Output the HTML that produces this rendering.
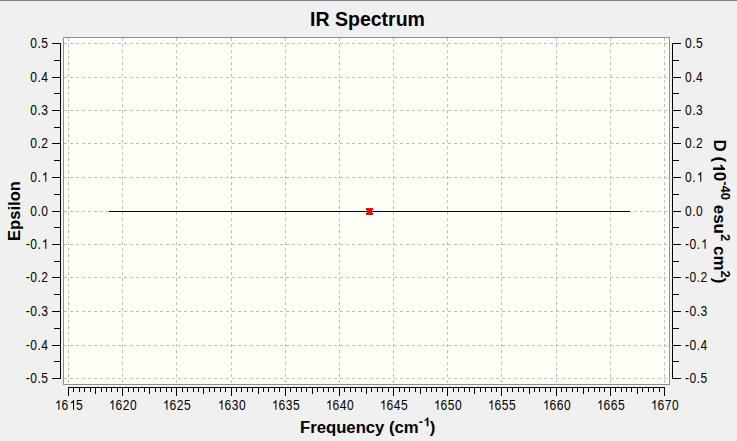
<!DOCTYPE html>
<html><head><meta charset="utf-8"><style>
html,body{margin:0;padding:0;width:737px;height:441px;overflow:hidden;background:#f0f0f0}
body{position:relative;font-family:"Liberation Sans",sans-serif;color:#000}
svg{position:absolute;left:0;top:0}
.yl{position:absolute;font-size:14px;line-height:16px;white-space:nowrap;letter-spacing:0.55px}
.yl.l{left:0;width:48.5px;text-align:right;transform:scaleX(0.86);transform-origin:48.5px 0}
.yl.r{left:685px;transform:scaleX(0.86);transform-origin:0 0}
.xl{position:absolute;top:397px;width:61px;text-align:center;font-size:14px;line-height:16px;letter-spacing:0.55px;text-indent:0.55px;transform:scaleX(0.86)}
.title{position:absolute;left:-1px;width:737px;top:8px;text-align:center;font-weight:bold;font-size:19.5px;line-height:22px}
.xt{position:absolute;left:300px;top:418px;font-weight:bold;font-size:16.7px;line-height:20px;white-space:nowrap}
.yt{position:absolute;font-weight:bold;font-size:17px;line-height:20px;white-space:nowrap}
sup{font-size:12.5px;vertical-align:0;position:relative;top:-7px}
sup.s2{font-size:13px;top:-7px}
.one{position:relative;color:transparent}
.one svg{position:absolute;left:0;top:0;width:0.5562em;height:1.1172em;fill:#000}
</style></head><body>
<svg width="737" height="441" viewBox="0 0 737 441" shape-rendering="crispEdges">
<rect x="0" y="0" width="737" height="441" fill="#f0f0f0"/>
<rect x="0" y="0" width="737" height="1" fill="#7e8390"/>
<rect x="63" y="37" width="607" height="348" fill="#8a8f99"/>
<rect x="64" y="38" width="605" height="346" fill="#fffff8"/>
<path d="M64 43h3v1h-3zM70 43h3v1h-3zM76 43h3v1h-3zM82 43h3v1h-3zM88 43h3v1h-3zM94 43h3v1h-3zM100 43h3v1h-3zM106 43h3v1h-3zM112 43h3v1h-3zM118 43h3v1h-3zM124 43h3v1h-3zM130 43h3v1h-3zM136 43h3v1h-3zM142 43h3v1h-3zM148 43h3v1h-3zM154 43h3v1h-3zM160 43h3v1h-3zM166 43h3v1h-3zM172 43h3v1h-3zM178 43h3v1h-3zM184 43h3v1h-3zM190 43h3v1h-3zM196 43h3v1h-3zM202 43h3v1h-3zM208 43h3v1h-3zM214 43h3v1h-3zM220 43h3v1h-3zM226 43h3v1h-3zM232 43h3v1h-3zM238 43h3v1h-3zM244 43h3v1h-3zM250 43h3v1h-3zM256 43h3v1h-3zM262 43h3v1h-3zM268 43h3v1h-3zM274 43h3v1h-3zM280 43h3v1h-3zM286 43h3v1h-3zM292 43h3v1h-3zM298 43h3v1h-3zM304 43h3v1h-3zM310 43h3v1h-3zM316 43h3v1h-3zM322 43h3v1h-3zM328 43h3v1h-3zM334 43h3v1h-3zM340 43h3v1h-3zM346 43h3v1h-3zM352 43h3v1h-3zM358 43h3v1h-3zM364 43h3v1h-3zM370 43h3v1h-3zM376 43h3v1h-3zM382 43h3v1h-3zM388 43h3v1h-3zM394 43h3v1h-3zM400 43h3v1h-3zM406 43h3v1h-3zM412 43h3v1h-3zM418 43h3v1h-3zM424 43h3v1h-3zM430 43h3v1h-3zM436 43h3v1h-3zM442 43h3v1h-3zM448 43h3v1h-3zM454 43h3v1h-3zM460 43h3v1h-3zM466 43h3v1h-3zM472 43h3v1h-3zM478 43h3v1h-3zM484 43h3v1h-3zM490 43h3v1h-3zM496 43h3v1h-3zM502 43h3v1h-3zM508 43h3v1h-3zM514 43h3v1h-3zM520 43h3v1h-3zM526 43h3v1h-3zM532 43h3v1h-3zM538 43h3v1h-3zM544 43h3v1h-3zM550 43h3v1h-3zM556 43h3v1h-3zM562 43h3v1h-3zM568 43h3v1h-3zM574 43h3v1h-3zM580 43h3v1h-3zM586 43h3v1h-3zM592 43h3v1h-3zM598 43h3v1h-3zM604 43h3v1h-3zM610 43h3v1h-3zM616 43h3v1h-3zM622 43h3v1h-3zM628 43h3v1h-3zM634 43h3v1h-3zM640 43h3v1h-3zM646 43h3v1h-3zM652 43h3v1h-3zM658 43h3v1h-3zM664 43h3v1h-3zM64 77h3v1h-3zM70 77h3v1h-3zM76 77h3v1h-3zM82 77h3v1h-3zM88 77h3v1h-3zM94 77h3v1h-3zM100 77h3v1h-3zM106 77h3v1h-3zM112 77h3v1h-3zM118 77h3v1h-3zM124 77h3v1h-3zM130 77h3v1h-3zM136 77h3v1h-3zM142 77h3v1h-3zM148 77h3v1h-3zM154 77h3v1h-3zM160 77h3v1h-3zM166 77h3v1h-3zM172 77h3v1h-3zM178 77h3v1h-3zM184 77h3v1h-3zM190 77h3v1h-3zM196 77h3v1h-3zM202 77h3v1h-3zM208 77h3v1h-3zM214 77h3v1h-3zM220 77h3v1h-3zM226 77h3v1h-3zM232 77h3v1h-3zM238 77h3v1h-3zM244 77h3v1h-3zM250 77h3v1h-3zM256 77h3v1h-3zM262 77h3v1h-3zM268 77h3v1h-3zM274 77h3v1h-3zM280 77h3v1h-3zM286 77h3v1h-3zM292 77h3v1h-3zM298 77h3v1h-3zM304 77h3v1h-3zM310 77h3v1h-3zM316 77h3v1h-3zM322 77h3v1h-3zM328 77h3v1h-3zM334 77h3v1h-3zM340 77h3v1h-3zM346 77h3v1h-3zM352 77h3v1h-3zM358 77h3v1h-3zM364 77h3v1h-3zM370 77h3v1h-3zM376 77h3v1h-3zM382 77h3v1h-3zM388 77h3v1h-3zM394 77h3v1h-3zM400 77h3v1h-3zM406 77h3v1h-3zM412 77h3v1h-3zM418 77h3v1h-3zM424 77h3v1h-3zM430 77h3v1h-3zM436 77h3v1h-3zM442 77h3v1h-3zM448 77h3v1h-3zM454 77h3v1h-3zM460 77h3v1h-3zM466 77h3v1h-3zM472 77h3v1h-3zM478 77h3v1h-3zM484 77h3v1h-3zM490 77h3v1h-3zM496 77h3v1h-3zM502 77h3v1h-3zM508 77h3v1h-3zM514 77h3v1h-3zM520 77h3v1h-3zM526 77h3v1h-3zM532 77h3v1h-3zM538 77h3v1h-3zM544 77h3v1h-3zM550 77h3v1h-3zM556 77h3v1h-3zM562 77h3v1h-3zM568 77h3v1h-3zM574 77h3v1h-3zM580 77h3v1h-3zM586 77h3v1h-3zM592 77h3v1h-3zM598 77h3v1h-3zM604 77h3v1h-3zM610 77h3v1h-3zM616 77h3v1h-3zM622 77h3v1h-3zM628 77h3v1h-3zM634 77h3v1h-3zM640 77h3v1h-3zM646 77h3v1h-3zM652 77h3v1h-3zM658 77h3v1h-3zM664 77h3v1h-3zM64 110h3v1h-3zM70 110h3v1h-3zM76 110h3v1h-3zM82 110h3v1h-3zM88 110h3v1h-3zM94 110h3v1h-3zM100 110h3v1h-3zM106 110h3v1h-3zM112 110h3v1h-3zM118 110h3v1h-3zM124 110h3v1h-3zM130 110h3v1h-3zM136 110h3v1h-3zM142 110h3v1h-3zM148 110h3v1h-3zM154 110h3v1h-3zM160 110h3v1h-3zM166 110h3v1h-3zM172 110h3v1h-3zM178 110h3v1h-3zM184 110h3v1h-3zM190 110h3v1h-3zM196 110h3v1h-3zM202 110h3v1h-3zM208 110h3v1h-3zM214 110h3v1h-3zM220 110h3v1h-3zM226 110h3v1h-3zM232 110h3v1h-3zM238 110h3v1h-3zM244 110h3v1h-3zM250 110h3v1h-3zM256 110h3v1h-3zM262 110h3v1h-3zM268 110h3v1h-3zM274 110h3v1h-3zM280 110h3v1h-3zM286 110h3v1h-3zM292 110h3v1h-3zM298 110h3v1h-3zM304 110h3v1h-3zM310 110h3v1h-3zM316 110h3v1h-3zM322 110h3v1h-3zM328 110h3v1h-3zM334 110h3v1h-3zM340 110h3v1h-3zM346 110h3v1h-3zM352 110h3v1h-3zM358 110h3v1h-3zM364 110h3v1h-3zM370 110h3v1h-3zM376 110h3v1h-3zM382 110h3v1h-3zM388 110h3v1h-3zM394 110h3v1h-3zM400 110h3v1h-3zM406 110h3v1h-3zM412 110h3v1h-3zM418 110h3v1h-3zM424 110h3v1h-3zM430 110h3v1h-3zM436 110h3v1h-3zM442 110h3v1h-3zM448 110h3v1h-3zM454 110h3v1h-3zM460 110h3v1h-3zM466 110h3v1h-3zM472 110h3v1h-3zM478 110h3v1h-3zM484 110h3v1h-3zM490 110h3v1h-3zM496 110h3v1h-3zM502 110h3v1h-3zM508 110h3v1h-3zM514 110h3v1h-3zM520 110h3v1h-3zM526 110h3v1h-3zM532 110h3v1h-3zM538 110h3v1h-3zM544 110h3v1h-3zM550 110h3v1h-3zM556 110h3v1h-3zM562 110h3v1h-3zM568 110h3v1h-3zM574 110h3v1h-3zM580 110h3v1h-3zM586 110h3v1h-3zM592 110h3v1h-3zM598 110h3v1h-3zM604 110h3v1h-3zM610 110h3v1h-3zM616 110h3v1h-3zM622 110h3v1h-3zM628 110h3v1h-3zM634 110h3v1h-3zM640 110h3v1h-3zM646 110h3v1h-3zM652 110h3v1h-3zM658 110h3v1h-3zM664 110h3v1h-3zM64 143h3v1h-3zM70 143h3v1h-3zM76 143h3v1h-3zM82 143h3v1h-3zM88 143h3v1h-3zM94 143h3v1h-3zM100 143h3v1h-3zM106 143h3v1h-3zM112 143h3v1h-3zM118 143h3v1h-3zM124 143h3v1h-3zM130 143h3v1h-3zM136 143h3v1h-3zM142 143h3v1h-3zM148 143h3v1h-3zM154 143h3v1h-3zM160 143h3v1h-3zM166 143h3v1h-3zM172 143h3v1h-3zM178 143h3v1h-3zM184 143h3v1h-3zM190 143h3v1h-3zM196 143h3v1h-3zM202 143h3v1h-3zM208 143h3v1h-3zM214 143h3v1h-3zM220 143h3v1h-3zM226 143h3v1h-3zM232 143h3v1h-3zM238 143h3v1h-3zM244 143h3v1h-3zM250 143h3v1h-3zM256 143h3v1h-3zM262 143h3v1h-3zM268 143h3v1h-3zM274 143h3v1h-3zM280 143h3v1h-3zM286 143h3v1h-3zM292 143h3v1h-3zM298 143h3v1h-3zM304 143h3v1h-3zM310 143h3v1h-3zM316 143h3v1h-3zM322 143h3v1h-3zM328 143h3v1h-3zM334 143h3v1h-3zM340 143h3v1h-3zM346 143h3v1h-3zM352 143h3v1h-3zM358 143h3v1h-3zM364 143h3v1h-3zM370 143h3v1h-3zM376 143h3v1h-3zM382 143h3v1h-3zM388 143h3v1h-3zM394 143h3v1h-3zM400 143h3v1h-3zM406 143h3v1h-3zM412 143h3v1h-3zM418 143h3v1h-3zM424 143h3v1h-3zM430 143h3v1h-3zM436 143h3v1h-3zM442 143h3v1h-3zM448 143h3v1h-3zM454 143h3v1h-3zM460 143h3v1h-3zM466 143h3v1h-3zM472 143h3v1h-3zM478 143h3v1h-3zM484 143h3v1h-3zM490 143h3v1h-3zM496 143h3v1h-3zM502 143h3v1h-3zM508 143h3v1h-3zM514 143h3v1h-3zM520 143h3v1h-3zM526 143h3v1h-3zM532 143h3v1h-3zM538 143h3v1h-3zM544 143h3v1h-3zM550 143h3v1h-3zM556 143h3v1h-3zM562 143h3v1h-3zM568 143h3v1h-3zM574 143h3v1h-3zM580 143h3v1h-3zM586 143h3v1h-3zM592 143h3v1h-3zM598 143h3v1h-3zM604 143h3v1h-3zM610 143h3v1h-3zM616 143h3v1h-3zM622 143h3v1h-3zM628 143h3v1h-3zM634 143h3v1h-3zM640 143h3v1h-3zM646 143h3v1h-3zM652 143h3v1h-3zM658 143h3v1h-3zM664 143h3v1h-3zM64 177h3v1h-3zM70 177h3v1h-3zM76 177h3v1h-3zM82 177h3v1h-3zM88 177h3v1h-3zM94 177h3v1h-3zM100 177h3v1h-3zM106 177h3v1h-3zM112 177h3v1h-3zM118 177h3v1h-3zM124 177h3v1h-3zM130 177h3v1h-3zM136 177h3v1h-3zM142 177h3v1h-3zM148 177h3v1h-3zM154 177h3v1h-3zM160 177h3v1h-3zM166 177h3v1h-3zM172 177h3v1h-3zM178 177h3v1h-3zM184 177h3v1h-3zM190 177h3v1h-3zM196 177h3v1h-3zM202 177h3v1h-3zM208 177h3v1h-3zM214 177h3v1h-3zM220 177h3v1h-3zM226 177h3v1h-3zM232 177h3v1h-3zM238 177h3v1h-3zM244 177h3v1h-3zM250 177h3v1h-3zM256 177h3v1h-3zM262 177h3v1h-3zM268 177h3v1h-3zM274 177h3v1h-3zM280 177h3v1h-3zM286 177h3v1h-3zM292 177h3v1h-3zM298 177h3v1h-3zM304 177h3v1h-3zM310 177h3v1h-3zM316 177h3v1h-3zM322 177h3v1h-3zM328 177h3v1h-3zM334 177h3v1h-3zM340 177h3v1h-3zM346 177h3v1h-3zM352 177h3v1h-3zM358 177h3v1h-3zM364 177h3v1h-3zM370 177h3v1h-3zM376 177h3v1h-3zM382 177h3v1h-3zM388 177h3v1h-3zM394 177h3v1h-3zM400 177h3v1h-3zM406 177h3v1h-3zM412 177h3v1h-3zM418 177h3v1h-3zM424 177h3v1h-3zM430 177h3v1h-3zM436 177h3v1h-3zM442 177h3v1h-3zM448 177h3v1h-3zM454 177h3v1h-3zM460 177h3v1h-3zM466 177h3v1h-3zM472 177h3v1h-3zM478 177h3v1h-3zM484 177h3v1h-3zM490 177h3v1h-3zM496 177h3v1h-3zM502 177h3v1h-3zM508 177h3v1h-3zM514 177h3v1h-3zM520 177h3v1h-3zM526 177h3v1h-3zM532 177h3v1h-3zM538 177h3v1h-3zM544 177h3v1h-3zM550 177h3v1h-3zM556 177h3v1h-3zM562 177h3v1h-3zM568 177h3v1h-3zM574 177h3v1h-3zM580 177h3v1h-3zM586 177h3v1h-3zM592 177h3v1h-3zM598 177h3v1h-3zM604 177h3v1h-3zM610 177h3v1h-3zM616 177h3v1h-3zM622 177h3v1h-3zM628 177h3v1h-3zM634 177h3v1h-3zM640 177h3v1h-3zM646 177h3v1h-3zM652 177h3v1h-3zM658 177h3v1h-3zM664 177h3v1h-3zM64 211h3v1h-3zM70 211h3v1h-3zM76 211h3v1h-3zM82 211h3v1h-3zM88 211h3v1h-3zM94 211h3v1h-3zM100 211h3v1h-3zM106 211h3v1h-3zM112 211h3v1h-3zM118 211h3v1h-3zM124 211h3v1h-3zM130 211h3v1h-3zM136 211h3v1h-3zM142 211h3v1h-3zM148 211h3v1h-3zM154 211h3v1h-3zM160 211h3v1h-3zM166 211h3v1h-3zM172 211h3v1h-3zM178 211h3v1h-3zM184 211h3v1h-3zM190 211h3v1h-3zM196 211h3v1h-3zM202 211h3v1h-3zM208 211h3v1h-3zM214 211h3v1h-3zM220 211h3v1h-3zM226 211h3v1h-3zM232 211h3v1h-3zM238 211h3v1h-3zM244 211h3v1h-3zM250 211h3v1h-3zM256 211h3v1h-3zM262 211h3v1h-3zM268 211h3v1h-3zM274 211h3v1h-3zM280 211h3v1h-3zM286 211h3v1h-3zM292 211h3v1h-3zM298 211h3v1h-3zM304 211h3v1h-3zM310 211h3v1h-3zM316 211h3v1h-3zM322 211h3v1h-3zM328 211h3v1h-3zM334 211h3v1h-3zM340 211h3v1h-3zM346 211h3v1h-3zM352 211h3v1h-3zM358 211h3v1h-3zM364 211h3v1h-3zM370 211h3v1h-3zM376 211h3v1h-3zM382 211h3v1h-3zM388 211h3v1h-3zM394 211h3v1h-3zM400 211h3v1h-3zM406 211h3v1h-3zM412 211h3v1h-3zM418 211h3v1h-3zM424 211h3v1h-3zM430 211h3v1h-3zM436 211h3v1h-3zM442 211h3v1h-3zM448 211h3v1h-3zM454 211h3v1h-3zM460 211h3v1h-3zM466 211h3v1h-3zM472 211h3v1h-3zM478 211h3v1h-3zM484 211h3v1h-3zM490 211h3v1h-3zM496 211h3v1h-3zM502 211h3v1h-3zM508 211h3v1h-3zM514 211h3v1h-3zM520 211h3v1h-3zM526 211h3v1h-3zM532 211h3v1h-3zM538 211h3v1h-3zM544 211h3v1h-3zM550 211h3v1h-3zM556 211h3v1h-3zM562 211h3v1h-3zM568 211h3v1h-3zM574 211h3v1h-3zM580 211h3v1h-3zM586 211h3v1h-3zM592 211h3v1h-3zM598 211h3v1h-3zM604 211h3v1h-3zM610 211h3v1h-3zM616 211h3v1h-3zM622 211h3v1h-3zM628 211h3v1h-3zM634 211h3v1h-3zM640 211h3v1h-3zM646 211h3v1h-3zM652 211h3v1h-3zM658 211h3v1h-3zM664 211h3v1h-3zM64 244h3v1h-3zM70 244h3v1h-3zM76 244h3v1h-3zM82 244h3v1h-3zM88 244h3v1h-3zM94 244h3v1h-3zM100 244h3v1h-3zM106 244h3v1h-3zM112 244h3v1h-3zM118 244h3v1h-3zM124 244h3v1h-3zM130 244h3v1h-3zM136 244h3v1h-3zM142 244h3v1h-3zM148 244h3v1h-3zM154 244h3v1h-3zM160 244h3v1h-3zM166 244h3v1h-3zM172 244h3v1h-3zM178 244h3v1h-3zM184 244h3v1h-3zM190 244h3v1h-3zM196 244h3v1h-3zM202 244h3v1h-3zM208 244h3v1h-3zM214 244h3v1h-3zM220 244h3v1h-3zM226 244h3v1h-3zM232 244h3v1h-3zM238 244h3v1h-3zM244 244h3v1h-3zM250 244h3v1h-3zM256 244h3v1h-3zM262 244h3v1h-3zM268 244h3v1h-3zM274 244h3v1h-3zM280 244h3v1h-3zM286 244h3v1h-3zM292 244h3v1h-3zM298 244h3v1h-3zM304 244h3v1h-3zM310 244h3v1h-3zM316 244h3v1h-3zM322 244h3v1h-3zM328 244h3v1h-3zM334 244h3v1h-3zM340 244h3v1h-3zM346 244h3v1h-3zM352 244h3v1h-3zM358 244h3v1h-3zM364 244h3v1h-3zM370 244h3v1h-3zM376 244h3v1h-3zM382 244h3v1h-3zM388 244h3v1h-3zM394 244h3v1h-3zM400 244h3v1h-3zM406 244h3v1h-3zM412 244h3v1h-3zM418 244h3v1h-3zM424 244h3v1h-3zM430 244h3v1h-3zM436 244h3v1h-3zM442 244h3v1h-3zM448 244h3v1h-3zM454 244h3v1h-3zM460 244h3v1h-3zM466 244h3v1h-3zM472 244h3v1h-3zM478 244h3v1h-3zM484 244h3v1h-3zM490 244h3v1h-3zM496 244h3v1h-3zM502 244h3v1h-3zM508 244h3v1h-3zM514 244h3v1h-3zM520 244h3v1h-3zM526 244h3v1h-3zM532 244h3v1h-3zM538 244h3v1h-3zM544 244h3v1h-3zM550 244h3v1h-3zM556 244h3v1h-3zM562 244h3v1h-3zM568 244h3v1h-3zM574 244h3v1h-3zM580 244h3v1h-3zM586 244h3v1h-3zM592 244h3v1h-3zM598 244h3v1h-3zM604 244h3v1h-3zM610 244h3v1h-3zM616 244h3v1h-3zM622 244h3v1h-3zM628 244h3v1h-3zM634 244h3v1h-3zM640 244h3v1h-3zM646 244h3v1h-3zM652 244h3v1h-3zM658 244h3v1h-3zM664 244h3v1h-3zM64 277h3v1h-3zM70 277h3v1h-3zM76 277h3v1h-3zM82 277h3v1h-3zM88 277h3v1h-3zM94 277h3v1h-3zM100 277h3v1h-3zM106 277h3v1h-3zM112 277h3v1h-3zM118 277h3v1h-3zM124 277h3v1h-3zM130 277h3v1h-3zM136 277h3v1h-3zM142 277h3v1h-3zM148 277h3v1h-3zM154 277h3v1h-3zM160 277h3v1h-3zM166 277h3v1h-3zM172 277h3v1h-3zM178 277h3v1h-3zM184 277h3v1h-3zM190 277h3v1h-3zM196 277h3v1h-3zM202 277h3v1h-3zM208 277h3v1h-3zM214 277h3v1h-3zM220 277h3v1h-3zM226 277h3v1h-3zM232 277h3v1h-3zM238 277h3v1h-3zM244 277h3v1h-3zM250 277h3v1h-3zM256 277h3v1h-3zM262 277h3v1h-3zM268 277h3v1h-3zM274 277h3v1h-3zM280 277h3v1h-3zM286 277h3v1h-3zM292 277h3v1h-3zM298 277h3v1h-3zM304 277h3v1h-3zM310 277h3v1h-3zM316 277h3v1h-3zM322 277h3v1h-3zM328 277h3v1h-3zM334 277h3v1h-3zM340 277h3v1h-3zM346 277h3v1h-3zM352 277h3v1h-3zM358 277h3v1h-3zM364 277h3v1h-3zM370 277h3v1h-3zM376 277h3v1h-3zM382 277h3v1h-3zM388 277h3v1h-3zM394 277h3v1h-3zM400 277h3v1h-3zM406 277h3v1h-3zM412 277h3v1h-3zM418 277h3v1h-3zM424 277h3v1h-3zM430 277h3v1h-3zM436 277h3v1h-3zM442 277h3v1h-3zM448 277h3v1h-3zM454 277h3v1h-3zM460 277h3v1h-3zM466 277h3v1h-3zM472 277h3v1h-3zM478 277h3v1h-3zM484 277h3v1h-3zM490 277h3v1h-3zM496 277h3v1h-3zM502 277h3v1h-3zM508 277h3v1h-3zM514 277h3v1h-3zM520 277h3v1h-3zM526 277h3v1h-3zM532 277h3v1h-3zM538 277h3v1h-3zM544 277h3v1h-3zM550 277h3v1h-3zM556 277h3v1h-3zM562 277h3v1h-3zM568 277h3v1h-3zM574 277h3v1h-3zM580 277h3v1h-3zM586 277h3v1h-3zM592 277h3v1h-3zM598 277h3v1h-3zM604 277h3v1h-3zM610 277h3v1h-3zM616 277h3v1h-3zM622 277h3v1h-3zM628 277h3v1h-3zM634 277h3v1h-3zM640 277h3v1h-3zM646 277h3v1h-3zM652 277h3v1h-3zM658 277h3v1h-3zM664 277h3v1h-3zM64 311h3v1h-3zM70 311h3v1h-3zM76 311h3v1h-3zM82 311h3v1h-3zM88 311h3v1h-3zM94 311h3v1h-3zM100 311h3v1h-3zM106 311h3v1h-3zM112 311h3v1h-3zM118 311h3v1h-3zM124 311h3v1h-3zM130 311h3v1h-3zM136 311h3v1h-3zM142 311h3v1h-3zM148 311h3v1h-3zM154 311h3v1h-3zM160 311h3v1h-3zM166 311h3v1h-3zM172 311h3v1h-3zM178 311h3v1h-3zM184 311h3v1h-3zM190 311h3v1h-3zM196 311h3v1h-3zM202 311h3v1h-3zM208 311h3v1h-3zM214 311h3v1h-3zM220 311h3v1h-3zM226 311h3v1h-3zM232 311h3v1h-3zM238 311h3v1h-3zM244 311h3v1h-3zM250 311h3v1h-3zM256 311h3v1h-3zM262 311h3v1h-3zM268 311h3v1h-3zM274 311h3v1h-3zM280 311h3v1h-3zM286 311h3v1h-3zM292 311h3v1h-3zM298 311h3v1h-3zM304 311h3v1h-3zM310 311h3v1h-3zM316 311h3v1h-3zM322 311h3v1h-3zM328 311h3v1h-3zM334 311h3v1h-3zM340 311h3v1h-3zM346 311h3v1h-3zM352 311h3v1h-3zM358 311h3v1h-3zM364 311h3v1h-3zM370 311h3v1h-3zM376 311h3v1h-3zM382 311h3v1h-3zM388 311h3v1h-3zM394 311h3v1h-3zM400 311h3v1h-3zM406 311h3v1h-3zM412 311h3v1h-3zM418 311h3v1h-3zM424 311h3v1h-3zM430 311h3v1h-3zM436 311h3v1h-3zM442 311h3v1h-3zM448 311h3v1h-3zM454 311h3v1h-3zM460 311h3v1h-3zM466 311h3v1h-3zM472 311h3v1h-3zM478 311h3v1h-3zM484 311h3v1h-3zM490 311h3v1h-3zM496 311h3v1h-3zM502 311h3v1h-3zM508 311h3v1h-3zM514 311h3v1h-3zM520 311h3v1h-3zM526 311h3v1h-3zM532 311h3v1h-3zM538 311h3v1h-3zM544 311h3v1h-3zM550 311h3v1h-3zM556 311h3v1h-3zM562 311h3v1h-3zM568 311h3v1h-3zM574 311h3v1h-3zM580 311h3v1h-3zM586 311h3v1h-3zM592 311h3v1h-3zM598 311h3v1h-3zM604 311h3v1h-3zM610 311h3v1h-3zM616 311h3v1h-3zM622 311h3v1h-3zM628 311h3v1h-3zM634 311h3v1h-3zM640 311h3v1h-3zM646 311h3v1h-3zM652 311h3v1h-3zM658 311h3v1h-3zM664 311h3v1h-3zM64 345h3v1h-3zM70 345h3v1h-3zM76 345h3v1h-3zM82 345h3v1h-3zM88 345h3v1h-3zM94 345h3v1h-3zM100 345h3v1h-3zM106 345h3v1h-3zM112 345h3v1h-3zM118 345h3v1h-3zM124 345h3v1h-3zM130 345h3v1h-3zM136 345h3v1h-3zM142 345h3v1h-3zM148 345h3v1h-3zM154 345h3v1h-3zM160 345h3v1h-3zM166 345h3v1h-3zM172 345h3v1h-3zM178 345h3v1h-3zM184 345h3v1h-3zM190 345h3v1h-3zM196 345h3v1h-3zM202 345h3v1h-3zM208 345h3v1h-3zM214 345h3v1h-3zM220 345h3v1h-3zM226 345h3v1h-3zM232 345h3v1h-3zM238 345h3v1h-3zM244 345h3v1h-3zM250 345h3v1h-3zM256 345h3v1h-3zM262 345h3v1h-3zM268 345h3v1h-3zM274 345h3v1h-3zM280 345h3v1h-3zM286 345h3v1h-3zM292 345h3v1h-3zM298 345h3v1h-3zM304 345h3v1h-3zM310 345h3v1h-3zM316 345h3v1h-3zM322 345h3v1h-3zM328 345h3v1h-3zM334 345h3v1h-3zM340 345h3v1h-3zM346 345h3v1h-3zM352 345h3v1h-3zM358 345h3v1h-3zM364 345h3v1h-3zM370 345h3v1h-3zM376 345h3v1h-3zM382 345h3v1h-3zM388 345h3v1h-3zM394 345h3v1h-3zM400 345h3v1h-3zM406 345h3v1h-3zM412 345h3v1h-3zM418 345h3v1h-3zM424 345h3v1h-3zM430 345h3v1h-3zM436 345h3v1h-3zM442 345h3v1h-3zM448 345h3v1h-3zM454 345h3v1h-3zM460 345h3v1h-3zM466 345h3v1h-3zM472 345h3v1h-3zM478 345h3v1h-3zM484 345h3v1h-3zM490 345h3v1h-3zM496 345h3v1h-3zM502 345h3v1h-3zM508 345h3v1h-3zM514 345h3v1h-3zM520 345h3v1h-3zM526 345h3v1h-3zM532 345h3v1h-3zM538 345h3v1h-3zM544 345h3v1h-3zM550 345h3v1h-3zM556 345h3v1h-3zM562 345h3v1h-3zM568 345h3v1h-3zM574 345h3v1h-3zM580 345h3v1h-3zM586 345h3v1h-3zM592 345h3v1h-3zM598 345h3v1h-3zM604 345h3v1h-3zM610 345h3v1h-3zM616 345h3v1h-3zM622 345h3v1h-3zM628 345h3v1h-3zM634 345h3v1h-3zM640 345h3v1h-3zM646 345h3v1h-3zM652 345h3v1h-3zM658 345h3v1h-3zM664 345h3v1h-3zM64 378h3v1h-3zM70 378h3v1h-3zM76 378h3v1h-3zM82 378h3v1h-3zM88 378h3v1h-3zM94 378h3v1h-3zM100 378h3v1h-3zM106 378h3v1h-3zM112 378h3v1h-3zM118 378h3v1h-3zM124 378h3v1h-3zM130 378h3v1h-3zM136 378h3v1h-3zM142 378h3v1h-3zM148 378h3v1h-3zM154 378h3v1h-3zM160 378h3v1h-3zM166 378h3v1h-3zM172 378h3v1h-3zM178 378h3v1h-3zM184 378h3v1h-3zM190 378h3v1h-3zM196 378h3v1h-3zM202 378h3v1h-3zM208 378h3v1h-3zM214 378h3v1h-3zM220 378h3v1h-3zM226 378h3v1h-3zM232 378h3v1h-3zM238 378h3v1h-3zM244 378h3v1h-3zM250 378h3v1h-3zM256 378h3v1h-3zM262 378h3v1h-3zM268 378h3v1h-3zM274 378h3v1h-3zM280 378h3v1h-3zM286 378h3v1h-3zM292 378h3v1h-3zM298 378h3v1h-3zM304 378h3v1h-3zM310 378h3v1h-3zM316 378h3v1h-3zM322 378h3v1h-3zM328 378h3v1h-3zM334 378h3v1h-3zM340 378h3v1h-3zM346 378h3v1h-3zM352 378h3v1h-3zM358 378h3v1h-3zM364 378h3v1h-3zM370 378h3v1h-3zM376 378h3v1h-3zM382 378h3v1h-3zM388 378h3v1h-3zM394 378h3v1h-3zM400 378h3v1h-3zM406 378h3v1h-3zM412 378h3v1h-3zM418 378h3v1h-3zM424 378h3v1h-3zM430 378h3v1h-3zM436 378h3v1h-3zM442 378h3v1h-3zM448 378h3v1h-3zM454 378h3v1h-3zM460 378h3v1h-3zM466 378h3v1h-3zM472 378h3v1h-3zM478 378h3v1h-3zM484 378h3v1h-3zM490 378h3v1h-3zM496 378h3v1h-3zM502 378h3v1h-3zM508 378h3v1h-3zM514 378h3v1h-3zM520 378h3v1h-3zM526 378h3v1h-3zM532 378h3v1h-3zM538 378h3v1h-3zM544 378h3v1h-3zM550 378h3v1h-3zM556 378h3v1h-3zM562 378h3v1h-3zM568 378h3v1h-3zM574 378h3v1h-3zM580 378h3v1h-3zM586 378h3v1h-3zM592 378h3v1h-3zM598 378h3v1h-3zM604 378h3v1h-3zM610 378h3v1h-3zM616 378h3v1h-3zM622 378h3v1h-3zM628 378h3v1h-3zM634 378h3v1h-3zM640 378h3v1h-3zM646 378h3v1h-3zM652 378h3v1h-3zM658 378h3v1h-3zM664 378h3v1h-3zM68 38h1v3h-1zM68 44h1v3h-1zM68 50h1v3h-1zM68 56h1v3h-1zM68 62h1v3h-1zM68 68h1v3h-1zM68 74h1v3h-1zM68 80h1v3h-1zM68 86h1v3h-1zM68 92h1v3h-1zM68 98h1v3h-1zM68 104h1v3h-1zM68 110h1v3h-1zM68 116h1v3h-1zM68 122h1v3h-1zM68 128h1v3h-1zM68 134h1v3h-1zM68 140h1v3h-1zM68 146h1v3h-1zM68 152h1v3h-1zM68 158h1v3h-1zM68 164h1v3h-1zM68 170h1v3h-1zM68 176h1v3h-1zM68 182h1v3h-1zM68 188h1v3h-1zM68 194h1v3h-1zM68 200h1v3h-1zM68 206h1v3h-1zM68 212h1v3h-1zM68 218h1v3h-1zM68 224h1v3h-1zM68 230h1v3h-1zM68 236h1v3h-1zM68 242h1v3h-1zM68 248h1v3h-1zM68 254h1v3h-1zM68 260h1v3h-1zM68 266h1v3h-1zM68 272h1v3h-1zM68 278h1v3h-1zM68 284h1v3h-1zM68 290h1v3h-1zM68 296h1v3h-1zM68 302h1v3h-1zM68 308h1v3h-1zM68 314h1v3h-1zM68 320h1v3h-1zM68 326h1v3h-1zM68 332h1v3h-1zM68 338h1v3h-1zM68 344h1v3h-1zM68 350h1v3h-1zM68 356h1v3h-1zM68 362h1v3h-1zM68 368h1v3h-1zM68 374h1v3h-1zM68 380h1v3h-1zM122 38h1v3h-1zM122 44h1v3h-1zM122 50h1v3h-1zM122 56h1v3h-1zM122 62h1v3h-1zM122 68h1v3h-1zM122 74h1v3h-1zM122 80h1v3h-1zM122 86h1v3h-1zM122 92h1v3h-1zM122 98h1v3h-1zM122 104h1v3h-1zM122 110h1v3h-1zM122 116h1v3h-1zM122 122h1v3h-1zM122 128h1v3h-1zM122 134h1v3h-1zM122 140h1v3h-1zM122 146h1v3h-1zM122 152h1v3h-1zM122 158h1v3h-1zM122 164h1v3h-1zM122 170h1v3h-1zM122 176h1v3h-1zM122 182h1v3h-1zM122 188h1v3h-1zM122 194h1v3h-1zM122 200h1v3h-1zM122 206h1v3h-1zM122 212h1v3h-1zM122 218h1v3h-1zM122 224h1v3h-1zM122 230h1v3h-1zM122 236h1v3h-1zM122 242h1v3h-1zM122 248h1v3h-1zM122 254h1v3h-1zM122 260h1v3h-1zM122 266h1v3h-1zM122 272h1v3h-1zM122 278h1v3h-1zM122 284h1v3h-1zM122 290h1v3h-1zM122 296h1v3h-1zM122 302h1v3h-1zM122 308h1v3h-1zM122 314h1v3h-1zM122 320h1v3h-1zM122 326h1v3h-1zM122 332h1v3h-1zM122 338h1v3h-1zM122 344h1v3h-1zM122 350h1v3h-1zM122 356h1v3h-1zM122 362h1v3h-1zM122 368h1v3h-1zM122 374h1v3h-1zM122 380h1v3h-1zM176 38h1v3h-1zM176 44h1v3h-1zM176 50h1v3h-1zM176 56h1v3h-1zM176 62h1v3h-1zM176 68h1v3h-1zM176 74h1v3h-1zM176 80h1v3h-1zM176 86h1v3h-1zM176 92h1v3h-1zM176 98h1v3h-1zM176 104h1v3h-1zM176 110h1v3h-1zM176 116h1v3h-1zM176 122h1v3h-1zM176 128h1v3h-1zM176 134h1v3h-1zM176 140h1v3h-1zM176 146h1v3h-1zM176 152h1v3h-1zM176 158h1v3h-1zM176 164h1v3h-1zM176 170h1v3h-1zM176 176h1v3h-1zM176 182h1v3h-1zM176 188h1v3h-1zM176 194h1v3h-1zM176 200h1v3h-1zM176 206h1v3h-1zM176 212h1v3h-1zM176 218h1v3h-1zM176 224h1v3h-1zM176 230h1v3h-1zM176 236h1v3h-1zM176 242h1v3h-1zM176 248h1v3h-1zM176 254h1v3h-1zM176 260h1v3h-1zM176 266h1v3h-1zM176 272h1v3h-1zM176 278h1v3h-1zM176 284h1v3h-1zM176 290h1v3h-1zM176 296h1v3h-1zM176 302h1v3h-1zM176 308h1v3h-1zM176 314h1v3h-1zM176 320h1v3h-1zM176 326h1v3h-1zM176 332h1v3h-1zM176 338h1v3h-1zM176 344h1v3h-1zM176 350h1v3h-1zM176 356h1v3h-1zM176 362h1v3h-1zM176 368h1v3h-1zM176 374h1v3h-1zM176 380h1v3h-1zM231 38h1v3h-1zM231 44h1v3h-1zM231 50h1v3h-1zM231 56h1v3h-1zM231 62h1v3h-1zM231 68h1v3h-1zM231 74h1v3h-1zM231 80h1v3h-1zM231 86h1v3h-1zM231 92h1v3h-1zM231 98h1v3h-1zM231 104h1v3h-1zM231 110h1v3h-1zM231 116h1v3h-1zM231 122h1v3h-1zM231 128h1v3h-1zM231 134h1v3h-1zM231 140h1v3h-1zM231 146h1v3h-1zM231 152h1v3h-1zM231 158h1v3h-1zM231 164h1v3h-1zM231 170h1v3h-1zM231 176h1v3h-1zM231 182h1v3h-1zM231 188h1v3h-1zM231 194h1v3h-1zM231 200h1v3h-1zM231 206h1v3h-1zM231 212h1v3h-1zM231 218h1v3h-1zM231 224h1v3h-1zM231 230h1v3h-1zM231 236h1v3h-1zM231 242h1v3h-1zM231 248h1v3h-1zM231 254h1v3h-1zM231 260h1v3h-1zM231 266h1v3h-1zM231 272h1v3h-1zM231 278h1v3h-1zM231 284h1v3h-1zM231 290h1v3h-1zM231 296h1v3h-1zM231 302h1v3h-1zM231 308h1v3h-1zM231 314h1v3h-1zM231 320h1v3h-1zM231 326h1v3h-1zM231 332h1v3h-1zM231 338h1v3h-1zM231 344h1v3h-1zM231 350h1v3h-1zM231 356h1v3h-1zM231 362h1v3h-1zM231 368h1v3h-1zM231 374h1v3h-1zM231 380h1v3h-1zM285 38h1v3h-1zM285 44h1v3h-1zM285 50h1v3h-1zM285 56h1v3h-1zM285 62h1v3h-1zM285 68h1v3h-1zM285 74h1v3h-1zM285 80h1v3h-1zM285 86h1v3h-1zM285 92h1v3h-1zM285 98h1v3h-1zM285 104h1v3h-1zM285 110h1v3h-1zM285 116h1v3h-1zM285 122h1v3h-1zM285 128h1v3h-1zM285 134h1v3h-1zM285 140h1v3h-1zM285 146h1v3h-1zM285 152h1v3h-1zM285 158h1v3h-1zM285 164h1v3h-1zM285 170h1v3h-1zM285 176h1v3h-1zM285 182h1v3h-1zM285 188h1v3h-1zM285 194h1v3h-1zM285 200h1v3h-1zM285 206h1v3h-1zM285 212h1v3h-1zM285 218h1v3h-1zM285 224h1v3h-1zM285 230h1v3h-1zM285 236h1v3h-1zM285 242h1v3h-1zM285 248h1v3h-1zM285 254h1v3h-1zM285 260h1v3h-1zM285 266h1v3h-1zM285 272h1v3h-1zM285 278h1v3h-1zM285 284h1v3h-1zM285 290h1v3h-1zM285 296h1v3h-1zM285 302h1v3h-1zM285 308h1v3h-1zM285 314h1v3h-1zM285 320h1v3h-1zM285 326h1v3h-1zM285 332h1v3h-1zM285 338h1v3h-1zM285 344h1v3h-1zM285 350h1v3h-1zM285 356h1v3h-1zM285 362h1v3h-1zM285 368h1v3h-1zM285 374h1v3h-1zM285 380h1v3h-1zM339 38h1v3h-1zM339 44h1v3h-1zM339 50h1v3h-1zM339 56h1v3h-1zM339 62h1v3h-1zM339 68h1v3h-1zM339 74h1v3h-1zM339 80h1v3h-1zM339 86h1v3h-1zM339 92h1v3h-1zM339 98h1v3h-1zM339 104h1v3h-1zM339 110h1v3h-1zM339 116h1v3h-1zM339 122h1v3h-1zM339 128h1v3h-1zM339 134h1v3h-1zM339 140h1v3h-1zM339 146h1v3h-1zM339 152h1v3h-1zM339 158h1v3h-1zM339 164h1v3h-1zM339 170h1v3h-1zM339 176h1v3h-1zM339 182h1v3h-1zM339 188h1v3h-1zM339 194h1v3h-1zM339 200h1v3h-1zM339 206h1v3h-1zM339 212h1v3h-1zM339 218h1v3h-1zM339 224h1v3h-1zM339 230h1v3h-1zM339 236h1v3h-1zM339 242h1v3h-1zM339 248h1v3h-1zM339 254h1v3h-1zM339 260h1v3h-1zM339 266h1v3h-1zM339 272h1v3h-1zM339 278h1v3h-1zM339 284h1v3h-1zM339 290h1v3h-1zM339 296h1v3h-1zM339 302h1v3h-1zM339 308h1v3h-1zM339 314h1v3h-1zM339 320h1v3h-1zM339 326h1v3h-1zM339 332h1v3h-1zM339 338h1v3h-1zM339 344h1v3h-1zM339 350h1v3h-1zM339 356h1v3h-1zM339 362h1v3h-1zM339 368h1v3h-1zM339 374h1v3h-1zM339 380h1v3h-1zM393 38h1v3h-1zM393 44h1v3h-1zM393 50h1v3h-1zM393 56h1v3h-1zM393 62h1v3h-1zM393 68h1v3h-1zM393 74h1v3h-1zM393 80h1v3h-1zM393 86h1v3h-1zM393 92h1v3h-1zM393 98h1v3h-1zM393 104h1v3h-1zM393 110h1v3h-1zM393 116h1v3h-1zM393 122h1v3h-1zM393 128h1v3h-1zM393 134h1v3h-1zM393 140h1v3h-1zM393 146h1v3h-1zM393 152h1v3h-1zM393 158h1v3h-1zM393 164h1v3h-1zM393 170h1v3h-1zM393 176h1v3h-1zM393 182h1v3h-1zM393 188h1v3h-1zM393 194h1v3h-1zM393 200h1v3h-1zM393 206h1v3h-1zM393 212h1v3h-1zM393 218h1v3h-1zM393 224h1v3h-1zM393 230h1v3h-1zM393 236h1v3h-1zM393 242h1v3h-1zM393 248h1v3h-1zM393 254h1v3h-1zM393 260h1v3h-1zM393 266h1v3h-1zM393 272h1v3h-1zM393 278h1v3h-1zM393 284h1v3h-1zM393 290h1v3h-1zM393 296h1v3h-1zM393 302h1v3h-1zM393 308h1v3h-1zM393 314h1v3h-1zM393 320h1v3h-1zM393 326h1v3h-1zM393 332h1v3h-1zM393 338h1v3h-1zM393 344h1v3h-1zM393 350h1v3h-1zM393 356h1v3h-1zM393 362h1v3h-1zM393 368h1v3h-1zM393 374h1v3h-1zM393 380h1v3h-1zM447 38h1v3h-1zM447 44h1v3h-1zM447 50h1v3h-1zM447 56h1v3h-1zM447 62h1v3h-1zM447 68h1v3h-1zM447 74h1v3h-1zM447 80h1v3h-1zM447 86h1v3h-1zM447 92h1v3h-1zM447 98h1v3h-1zM447 104h1v3h-1zM447 110h1v3h-1zM447 116h1v3h-1zM447 122h1v3h-1zM447 128h1v3h-1zM447 134h1v3h-1zM447 140h1v3h-1zM447 146h1v3h-1zM447 152h1v3h-1zM447 158h1v3h-1zM447 164h1v3h-1zM447 170h1v3h-1zM447 176h1v3h-1zM447 182h1v3h-1zM447 188h1v3h-1zM447 194h1v3h-1zM447 200h1v3h-1zM447 206h1v3h-1zM447 212h1v3h-1zM447 218h1v3h-1zM447 224h1v3h-1zM447 230h1v3h-1zM447 236h1v3h-1zM447 242h1v3h-1zM447 248h1v3h-1zM447 254h1v3h-1zM447 260h1v3h-1zM447 266h1v3h-1zM447 272h1v3h-1zM447 278h1v3h-1zM447 284h1v3h-1zM447 290h1v3h-1zM447 296h1v3h-1zM447 302h1v3h-1zM447 308h1v3h-1zM447 314h1v3h-1zM447 320h1v3h-1zM447 326h1v3h-1zM447 332h1v3h-1zM447 338h1v3h-1zM447 344h1v3h-1zM447 350h1v3h-1zM447 356h1v3h-1zM447 362h1v3h-1zM447 368h1v3h-1zM447 374h1v3h-1zM447 380h1v3h-1zM501 38h1v3h-1zM501 44h1v3h-1zM501 50h1v3h-1zM501 56h1v3h-1zM501 62h1v3h-1zM501 68h1v3h-1zM501 74h1v3h-1zM501 80h1v3h-1zM501 86h1v3h-1zM501 92h1v3h-1zM501 98h1v3h-1zM501 104h1v3h-1zM501 110h1v3h-1zM501 116h1v3h-1zM501 122h1v3h-1zM501 128h1v3h-1zM501 134h1v3h-1zM501 140h1v3h-1zM501 146h1v3h-1zM501 152h1v3h-1zM501 158h1v3h-1zM501 164h1v3h-1zM501 170h1v3h-1zM501 176h1v3h-1zM501 182h1v3h-1zM501 188h1v3h-1zM501 194h1v3h-1zM501 200h1v3h-1zM501 206h1v3h-1zM501 212h1v3h-1zM501 218h1v3h-1zM501 224h1v3h-1zM501 230h1v3h-1zM501 236h1v3h-1zM501 242h1v3h-1zM501 248h1v3h-1zM501 254h1v3h-1zM501 260h1v3h-1zM501 266h1v3h-1zM501 272h1v3h-1zM501 278h1v3h-1zM501 284h1v3h-1zM501 290h1v3h-1zM501 296h1v3h-1zM501 302h1v3h-1zM501 308h1v3h-1zM501 314h1v3h-1zM501 320h1v3h-1zM501 326h1v3h-1zM501 332h1v3h-1zM501 338h1v3h-1zM501 344h1v3h-1zM501 350h1v3h-1zM501 356h1v3h-1zM501 362h1v3h-1zM501 368h1v3h-1zM501 374h1v3h-1zM501 380h1v3h-1zM556 38h1v3h-1zM556 44h1v3h-1zM556 50h1v3h-1zM556 56h1v3h-1zM556 62h1v3h-1zM556 68h1v3h-1zM556 74h1v3h-1zM556 80h1v3h-1zM556 86h1v3h-1zM556 92h1v3h-1zM556 98h1v3h-1zM556 104h1v3h-1zM556 110h1v3h-1zM556 116h1v3h-1zM556 122h1v3h-1zM556 128h1v3h-1zM556 134h1v3h-1zM556 140h1v3h-1zM556 146h1v3h-1zM556 152h1v3h-1zM556 158h1v3h-1zM556 164h1v3h-1zM556 170h1v3h-1zM556 176h1v3h-1zM556 182h1v3h-1zM556 188h1v3h-1zM556 194h1v3h-1zM556 200h1v3h-1zM556 206h1v3h-1zM556 212h1v3h-1zM556 218h1v3h-1zM556 224h1v3h-1zM556 230h1v3h-1zM556 236h1v3h-1zM556 242h1v3h-1zM556 248h1v3h-1zM556 254h1v3h-1zM556 260h1v3h-1zM556 266h1v3h-1zM556 272h1v3h-1zM556 278h1v3h-1zM556 284h1v3h-1zM556 290h1v3h-1zM556 296h1v3h-1zM556 302h1v3h-1zM556 308h1v3h-1zM556 314h1v3h-1zM556 320h1v3h-1zM556 326h1v3h-1zM556 332h1v3h-1zM556 338h1v3h-1zM556 344h1v3h-1zM556 350h1v3h-1zM556 356h1v3h-1zM556 362h1v3h-1zM556 368h1v3h-1zM556 374h1v3h-1zM556 380h1v3h-1zM610 38h1v3h-1zM610 44h1v3h-1zM610 50h1v3h-1zM610 56h1v3h-1zM610 62h1v3h-1zM610 68h1v3h-1zM610 74h1v3h-1zM610 80h1v3h-1zM610 86h1v3h-1zM610 92h1v3h-1zM610 98h1v3h-1zM610 104h1v3h-1zM610 110h1v3h-1zM610 116h1v3h-1zM610 122h1v3h-1zM610 128h1v3h-1zM610 134h1v3h-1zM610 140h1v3h-1zM610 146h1v3h-1zM610 152h1v3h-1zM610 158h1v3h-1zM610 164h1v3h-1zM610 170h1v3h-1zM610 176h1v3h-1zM610 182h1v3h-1zM610 188h1v3h-1zM610 194h1v3h-1zM610 200h1v3h-1zM610 206h1v3h-1zM610 212h1v3h-1zM610 218h1v3h-1zM610 224h1v3h-1zM610 230h1v3h-1zM610 236h1v3h-1zM610 242h1v3h-1zM610 248h1v3h-1zM610 254h1v3h-1zM610 260h1v3h-1zM610 266h1v3h-1zM610 272h1v3h-1zM610 278h1v3h-1zM610 284h1v3h-1zM610 290h1v3h-1zM610 296h1v3h-1zM610 302h1v3h-1zM610 308h1v3h-1zM610 314h1v3h-1zM610 320h1v3h-1zM610 326h1v3h-1zM610 332h1v3h-1zM610 338h1v3h-1zM610 344h1v3h-1zM610 350h1v3h-1zM610 356h1v3h-1zM610 362h1v3h-1zM610 368h1v3h-1zM610 374h1v3h-1zM610 380h1v3h-1zM664 38h1v3h-1zM664 44h1v3h-1zM664 50h1v3h-1zM664 56h1v3h-1zM664 62h1v3h-1zM664 68h1v3h-1zM664 74h1v3h-1zM664 80h1v3h-1zM664 86h1v3h-1zM664 92h1v3h-1zM664 98h1v3h-1zM664 104h1v3h-1zM664 110h1v3h-1zM664 116h1v3h-1zM664 122h1v3h-1zM664 128h1v3h-1zM664 134h1v3h-1zM664 140h1v3h-1zM664 146h1v3h-1zM664 152h1v3h-1zM664 158h1v3h-1zM664 164h1v3h-1zM664 170h1v3h-1zM664 176h1v3h-1zM664 182h1v3h-1zM664 188h1v3h-1zM664 194h1v3h-1zM664 200h1v3h-1zM664 206h1v3h-1zM664 212h1v3h-1zM664 218h1v3h-1zM664 224h1v3h-1zM664 230h1v3h-1zM664 236h1v3h-1zM664 242h1v3h-1zM664 248h1v3h-1zM664 254h1v3h-1zM664 260h1v3h-1zM664 266h1v3h-1zM664 272h1v3h-1zM664 278h1v3h-1zM664 284h1v3h-1zM664 290h1v3h-1zM664 296h1v3h-1zM664 302h1v3h-1zM664 308h1v3h-1zM664 314h1v3h-1zM664 320h1v3h-1zM664 326h1v3h-1zM664 332h1v3h-1zM664 338h1v3h-1zM664 344h1v3h-1zM664 350h1v3h-1zM664 356h1v3h-1zM664 362h1v3h-1zM664 368h1v3h-1zM664 374h1v3h-1zM664 380h1v3h-1z" fill="#c0c0c0"/>
<rect x="109" y="211" width="521" height="1" fill="#000"/>
<path d="M366 208h7v2h-1v3h1v2h-7v-2h1v-3h-1z" fill="#ff0000"/>
<rect x="60" y="43" width="1" height="336" fill="#000"/>
<rect x="672" y="43" width="1" height="336" fill="#000"/>
<rect x="68" y="387" width="597" height="1" fill="#000"/>
<path d="M52 43h8v1h-8zM673 43h8v1h-8zM52 77h8v1h-8zM673 77h8v1h-8zM52 110h8v1h-8zM673 110h8v1h-8zM52 143h8v1h-8zM673 143h8v1h-8zM52 177h8v1h-8zM673 177h8v1h-8zM52 211h8v1h-8zM673 211h8v1h-8zM52 244h8v1h-8zM673 244h8v1h-8zM52 277h8v1h-8zM673 277h8v1h-8zM52 311h8v1h-8zM673 311h8v1h-8zM52 345h8v1h-8zM673 345h8v1h-8zM52 378h8v1h-8zM673 378h8v1h-8zM54 60h6v1h-6zM673 60h6v1h-6zM54 93h6v1h-6zM673 93h6v1h-6zM54 127h6v1h-6zM673 127h6v1h-6zM54 160h6v1h-6zM673 160h6v1h-6zM54 194h6v1h-6zM673 194h6v1h-6zM54 227h6v1h-6zM673 227h6v1h-6zM54 261h6v1h-6zM673 261h6v1h-6zM54 294h6v1h-6zM673 294h6v1h-6zM54 328h6v1h-6zM673 328h6v1h-6zM54 361h6v1h-6zM673 361h6v1h-6zM68 388h1v8h-1zM73 388h1v4h-1zM79 388h1v4h-1zM84 388h1v4h-1zM90 388h1v4h-1zM95 388h1v6h-1zM101 388h1v4h-1zM106 388h1v4h-1zM111 388h1v4h-1zM117 388h1v4h-1zM122 388h1v8h-1zM128 388h1v4h-1zM133 388h1v4h-1zM138 388h1v4h-1zM144 388h1v4h-1zM149 388h1v6h-1zM155 388h1v4h-1zM160 388h1v4h-1zM166 388h1v4h-1zM171 388h1v4h-1zM176 388h1v8h-1zM182 388h1v4h-1zM187 388h1v4h-1zM193 388h1v4h-1zM198 388h1v4h-1zM203 388h1v6h-1zM209 388h1v4h-1zM214 388h1v4h-1zM220 388h1v4h-1zM225 388h1v4h-1zM231 388h1v8h-1zM236 388h1v4h-1zM241 388h1v4h-1zM247 388h1v4h-1zM252 388h1v4h-1zM258 388h1v6h-1zM263 388h1v4h-1zM268 388h1v4h-1zM274 388h1v4h-1zM279 388h1v4h-1zM285 388h1v8h-1zM290 388h1v4h-1zM296 388h1v4h-1zM301 388h1v4h-1zM306 388h1v4h-1zM312 388h1v6h-1zM317 388h1v4h-1zM323 388h1v4h-1zM328 388h1v4h-1zM333 388h1v4h-1zM339 388h1v8h-1zM344 388h1v4h-1zM350 388h1v4h-1zM355 388h1v4h-1zM361 388h1v4h-1zM366 388h1v6h-1zM371 388h1v4h-1zM377 388h1v4h-1zM382 388h1v4h-1zM388 388h1v4h-1zM393 388h1v8h-1zM399 388h1v4h-1zM404 388h1v4h-1zM409 388h1v4h-1zM415 388h1v4h-1zM420 388h1v6h-1zM426 388h1v4h-1zM431 388h1v4h-1zM436 388h1v4h-1zM442 388h1v4h-1zM447 388h1v8h-1zM453 388h1v4h-1zM458 388h1v4h-1zM464 388h1v4h-1zM469 388h1v4h-1zM474 388h1v6h-1zM480 388h1v4h-1zM485 388h1v4h-1zM491 388h1v4h-1zM496 388h1v4h-1zM501 388h1v8h-1zM507 388h1v4h-1zM512 388h1v4h-1zM518 388h1v4h-1zM523 388h1v4h-1zM529 388h1v6h-1zM534 388h1v4h-1zM539 388h1v4h-1zM545 388h1v4h-1zM550 388h1v4h-1zM556 388h1v8h-1zM561 388h1v4h-1zM566 388h1v4h-1zM572 388h1v4h-1zM577 388h1v4h-1zM583 388h1v6h-1zM588 388h1v4h-1zM594 388h1v4h-1zM599 388h1v4h-1zM604 388h1v4h-1zM610 388h1v8h-1zM615 388h1v4h-1zM621 388h1v4h-1zM626 388h1v4h-1zM631 388h1v4h-1zM637 388h1v6h-1zM642 388h1v4h-1zM648 388h1v4h-1zM653 388h1v4h-1zM659 388h1v4h-1zM664 388h1v8h-1z" fill="#000"/>
</svg>
<div class="yl l" style="top:35px">0.5</div><div class="yl r" style="top:35px">0.5</div><div class="yl l" style="top:69px">0.4</div><div class="yl r" style="top:69px">0.4</div><div class="yl l" style="top:102px">0.3</div><div class="yl r" style="top:102px">0.3</div><div class="yl l" style="top:135px">0.2</div><div class="yl r" style="top:135px">0.2</div><div class="yl l" style="top:169px">0.<span class="one">1<svg viewBox="0 0 1139 2288"><path transform="translate(110 0)" d="M763 1854H583V752Q518 811 412 871T222 960V793Q373 725 486 628T646 439H763Z"/></svg></span></div><div class="yl r" style="top:169px">0.<span class="one">1<svg viewBox="0 0 1139 2288"><path transform="translate(110 0)" d="M763 1854H583V752Q518 811 412 871T222 960V793Q373 725 486 628T646 439H763Z"/></svg></span></div><div class="yl l" style="top:203px">0.0</div><div class="yl r" style="top:203px">0.0</div><div class="yl l" style="top:236px">-0.<span class="one">1<svg viewBox="0 0 1139 2288"><path transform="translate(110 0)" d="M763 1854H583V752Q518 811 412 871T222 960V793Q373 725 486 628T646 439H763Z"/></svg></span></div><div class="yl r" style="top:236px">-0.<span class="one">1<svg viewBox="0 0 1139 2288"><path transform="translate(110 0)" d="M763 1854H583V752Q518 811 412 871T222 960V793Q373 725 486 628T646 439H763Z"/></svg></span></div><div class="yl l" style="top:269px">-0.2</div><div class="yl r" style="top:269px">-0.2</div><div class="yl l" style="top:303px">-0.3</div><div class="yl r" style="top:303px">-0.3</div><div class="yl l" style="top:337px">-0.4</div><div class="yl r" style="top:337px">-0.4</div><div class="yl l" style="top:370px">-0.5</div><div class="yl r" style="top:370px">-0.5</div><div class="xl" style="left:38.25px"><span class="one">1<svg viewBox="0 0 1139 2288"><path transform="translate(110 0)" d="M763 1854H583V752Q518 811 412 871T222 960V793Q373 725 486 628T646 439H763Z"/></svg></span>6<span class="one">1<svg viewBox="0 0 1139 2288"><path transform="translate(110 0)" d="M763 1854H583V752Q518 811 412 871T222 960V793Q373 725 486 628T646 439H763Z"/></svg></span>5</div><div class="xl" style="left:92.25px"><span class="one">1<svg viewBox="0 0 1139 2288"><path transform="translate(110 0)" d="M763 1854H583V752Q518 811 412 871T222 960V793Q373 725 486 628T646 439H763Z"/></svg></span>620</div><div class="xl" style="left:146.25px"><span class="one">1<svg viewBox="0 0 1139 2288"><path transform="translate(110 0)" d="M763 1854H583V752Q518 811 412 871T222 960V793Q373 725 486 628T646 439H763Z"/></svg></span>625</div><div class="xl" style="left:201.25px"><span class="one">1<svg viewBox="0 0 1139 2288"><path transform="translate(110 0)" d="M763 1854H583V752Q518 811 412 871T222 960V793Q373 725 486 628T646 439H763Z"/></svg></span>630</div><div class="xl" style="left:255.25px"><span class="one">1<svg viewBox="0 0 1139 2288"><path transform="translate(110 0)" d="M763 1854H583V752Q518 811 412 871T222 960V793Q373 725 486 628T646 439H763Z"/></svg></span>635</div><div class="xl" style="left:309.25px"><span class="one">1<svg viewBox="0 0 1139 2288"><path transform="translate(110 0)" d="M763 1854H583V752Q518 811 412 871T222 960V793Q373 725 486 628T646 439H763Z"/></svg></span>640</div><div class="xl" style="left:363.25px"><span class="one">1<svg viewBox="0 0 1139 2288"><path transform="translate(110 0)" d="M763 1854H583V752Q518 811 412 871T222 960V793Q373 725 486 628T646 439H763Z"/></svg></span>645</div><div class="xl" style="left:417.25px"><span class="one">1<svg viewBox="0 0 1139 2288"><path transform="translate(110 0)" d="M763 1854H583V752Q518 811 412 871T222 960V793Q373 725 486 628T646 439H763Z"/></svg></span>650</div><div class="xl" style="left:471.25px"><span class="one">1<svg viewBox="0 0 1139 2288"><path transform="translate(110 0)" d="M763 1854H583V752Q518 811 412 871T222 960V793Q373 725 486 628T646 439H763Z"/></svg></span>655</div><div class="xl" style="left:526.25px"><span class="one">1<svg viewBox="0 0 1139 2288"><path transform="translate(110 0)" d="M763 1854H583V752Q518 811 412 871T222 960V793Q373 725 486 628T646 439H763Z"/></svg></span>660</div><div class="xl" style="left:580.25px"><span class="one">1<svg viewBox="0 0 1139 2288"><path transform="translate(110 0)" d="M763 1854H583V752Q518 811 412 871T222 960V793Q373 725 486 628T646 439H763Z"/></svg></span>665</div><div class="xl" style="left:634.25px"><span class="one">1<svg viewBox="0 0 1139 2288"><path transform="translate(110 0)" d="M763 1854H583V752Q518 811 412 871T222 960V793Q373 725 486 628T646 439H763Z"/></svg></span>670</div>
<div class="title">IR Spectrum</div>
<div class="xt">Frequency (cm<sup>-<span class="one">1<svg viewBox="0 0 1139 2288"><path transform="translate(-90 0)" d="M980 1854H700V836Q560 975 360 1041V796Q470 761 590 664Q720 567 760 428H980Z"/></svg></span></sup>)</div>
<div class="yt" id="eps" style="left:-15px;top:200.75px;font-size:16.6px;transform:rotate(-90deg);transform-origin:50% 50%;width:60px;text-align:center">Epsilon</div>
<div class="yt" id="dl" style="left:645px;top:201px;transform:rotate(90deg);transform-origin:50% 50%;width:146px;text-align:center">D (<span class="one">1<svg viewBox="0 0 1139 2288"><path transform="translate(-90 0)" d="M980 1854H700V836Q560 975 360 1041V796Q470 761 590 664Q720 567 760 428H980Z"/></svg></span>0<sup class="s2">-40</sup> esu<sup class="s2">2</sup> cm<sup class="s2">2</sup>)</div>
</body></html>
